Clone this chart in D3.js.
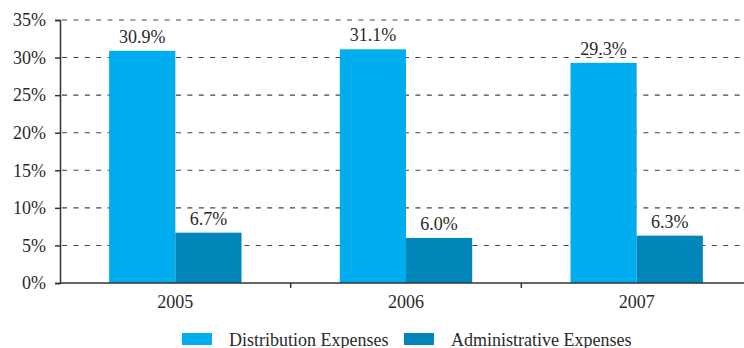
<!DOCTYPE html>
<html><head><meta charset="utf-8">
<script src="https://cdn.jsdelivr.net/npm/d3@7"></script>
<style>body{margin:0;background:#fff}svg{display:block}text{font-family:"Liberation Serif","Times New Roman",serif;fill:#2a2a2a}</style>
</head><body><svg id="c" width="744" height="348"></svg>
<script>
const years = ["2005", "2006", "2007"];
const seriesNames = ["Distribution Expenses", "Administrative Expenses"];
const distribution = [30.9, 31.1, 29.3];
const administrative = [6.7, 6.0, 6.3];
const yTicks = [0, 5, 10, 15, 20, 25, 30, 35];
const colors = ["#00AEEF", "#0086B9"];

const svg = d3.select("#c");
const mLeft = 60, mRight = 752, mTop = 20, mBottom = 283;
const x0 = d3.scaleBand().domain(years).range([mLeft, mRight]).padding(0);
const bw = x0.bandwidth();
const x1 = d3.scaleBand().domain(seriesNames).range([bw * 0.213, bw * 0.787]).padding(0);
const y = d3.scaleLinear().domain([0, 35]).range([mBottom, mTop]);

// gridlines
svg.append("g").selectAll("line").data(yTicks.filter(t => t > 0)).join("line")
  .attr("x1", mLeft + 2).attr("x2", 744).attr("y1", d => y(d)).attr("y2", d => y(d))
  .attr("stroke", "#444")
  .attr("stroke-width", 1.1).attr("stroke-dasharray", "5,6.4");

const vals = [distribution, administrative];
const data = [];
years.forEach((yr, i) => seriesNames.forEach((s, j) => data.push({yr, s, v: vals[j][i], j})));

const g = svg.append("g");
g.selectAll("rect").data(data).join("rect")
  .attr("x", d => x0(d.yr) + x1(d.s)).attr("width", x1.bandwidth())
  .attr("y", d => y(d.v)).attr("height", d => y(0) - y(d.v))
  .attr("fill", d => colors[d.j]);
g.selectAll("text").data(data).join("text")
  .attr("x", d => x0(d.yr) + x1(d.s) + x1.bandwidth() / 2)
  .attr("y", d => y(d.v) - 8).attr("text-anchor", "middle")
  .attr("font-size", 18).text(d => d.v.toFixed(1) + "%");

// y axis
const ya = svg.append("g").attr("transform", `translate(${mLeft},0)`)
  .call(d3.axisLeft(y).tickValues(yTicks).tickFormat(d => d + "%").tickSize(5).tickPadding(9));
ya.select(".domain").attr("stroke", "#333").attr("stroke-width", 1.5);
ya.selectAll(".tick line").attr("stroke", "#333").attr("stroke-width", 1.5);
ya.selectAll("text").attr("font-size", 18).attr("font-family", "Liberation Serif").attr("fill", "#2a2a2a");

// x axis
const xa = svg.append("g").attr("transform", `translate(0,${mBottom})`)
  .call(d3.axisBottom(x0).tickSize(0).tickPadding(12));
xa.select(".domain").remove();
svg.append("line").attr("x1", mLeft).attr("x2", 744).attr("y1", mBottom).attr("y2", mBottom)
  .attr("stroke", "#333").attr("stroke-width", 1.5);
svg.append("g").selectAll("line").data(years.slice(1)).join("line")
  .attr("x1", d => x0(d)).attr("x2", d => x0(d)).attr("y1", mBottom).attr("y2", mBottom + 5)
  .attr("stroke", "#333").attr("stroke-width", 1.5);
xa.selectAll("text").attr("font-size", 18).attr("font-family", "Liberation Serif").attr("fill", "#2a2a2a");

// legend
const legX = [182, 404];
const leg = svg.append("g").selectAll("g").data(seriesNames).join("g")
  .attr("transform", (d, i) => `translate(${legX[i]},333)`);
leg.append("rect").attr("width", 30).attr("height", 12).attr("fill", (d, i) => colors[i]);
leg.append("text").attr("x", 47).attr("y", 12.5).attr("font-size", 18).text(d => d);
</script></body></html>
